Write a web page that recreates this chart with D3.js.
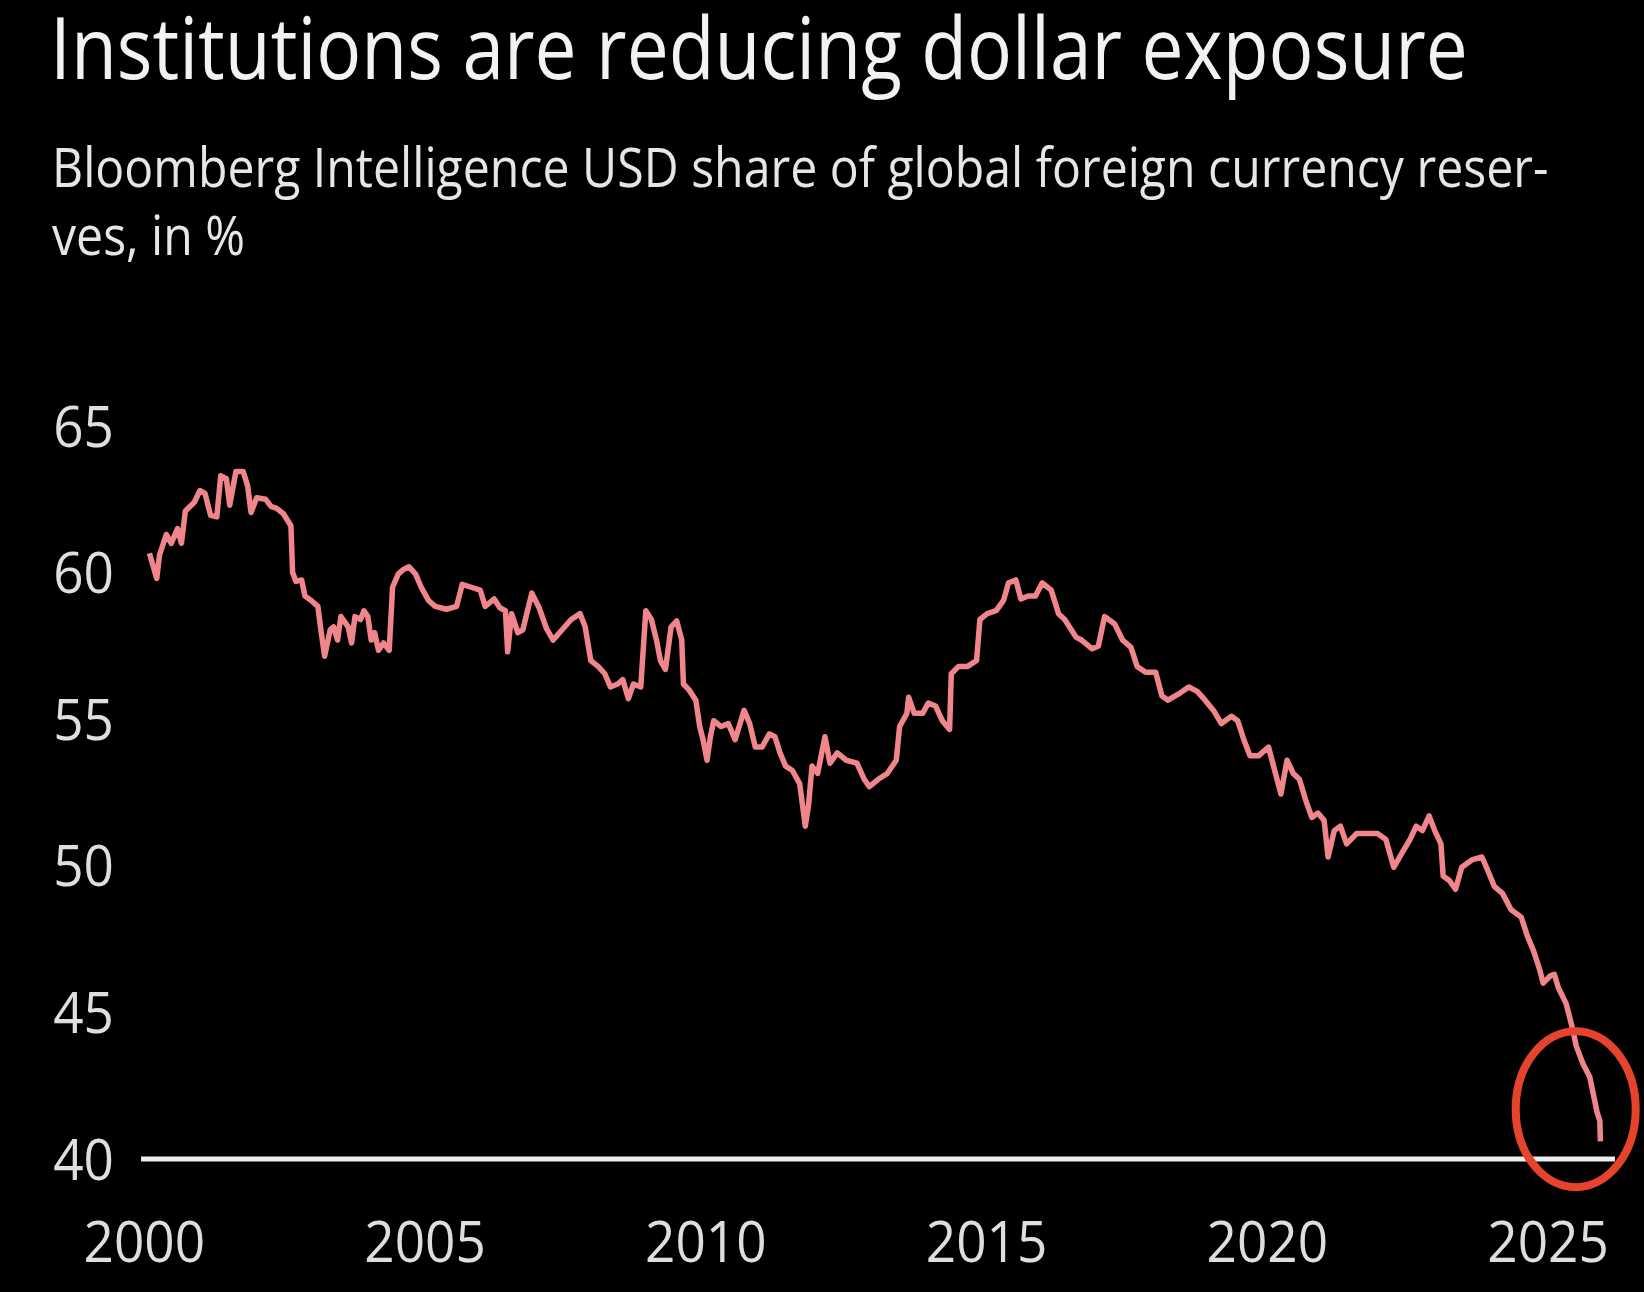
<!DOCTYPE html>
<html>
<head>
<meta charset="utf-8">
<script src="https://cdn.jsdelivr.net/npm/d3@7"></script>
<style>
  body { margin: 0; background: #000; }
  svg { display: block; }
  text { font-family: 'Open Sans', sans-serif; }
</style>
</head>
<body>
<div id="chart"></div>
<script>
// USD share of global FX reserves (decimal years)
const years = [
    2000.10, 2000.23, 2000.28, 2000.40, 2000.49, 2000.60, 2000.67, 2000.74, 2000.90, 2001.00,
    2001.09, 2001.19, 2001.30, 2001.37, 2001.47, 2001.53, 2001.64, 2001.77, 2001.85, 2001.91,
    2002.01, 2002.17, 2002.27, 2002.36, 2002.49, 2002.62, 2002.65, 2002.71, 2002.81, 2002.87,
    2002.98, 2003.10, 2003.16, 2003.22, 2003.32, 2003.38, 2003.45, 2003.51, 2003.64, 2003.70,
    2003.76, 2003.86, 2003.92, 2003.99, 2004.05, 2004.11, 2004.18, 2004.27, 2004.37, 2004.43,
    2004.53, 2004.62, 2004.72, 2004.84, 2004.94, 2005.07, 2005.19, 2005.39, 2005.57, 2005.67,
    2005.83, 2005.99, 2006.08, 2006.24, 2006.34, 2006.44, 2006.48, 2006.55, 2006.66, 2006.75,
    2006.91, 2007.04, 2007.17, 2007.29, 2007.45, 2007.61, 2007.77, 2007.86, 2007.96, 2008.09,
    2008.21, 2008.31, 2008.44, 2008.53, 2008.63, 2008.72, 2008.85, 2008.94, 2009.04, 2009.13,
    2009.20, 2009.29, 2009.39, 2009.49, 2009.58, 2009.61, 2009.71, 2009.83, 2009.90, 2009.96,
    2010.03, 2010.09, 2010.15, 2010.28, 2010.41, 2010.53, 2010.69, 2010.79, 2010.89, 2011.01,
    2011.14, 2011.24, 2011.33, 2011.43, 2011.55, 2011.68, 2011.78, 2011.84, 2011.90, 2012.00,
    2012.13, 2012.22, 2012.35, 2012.51, 2012.70, 2012.83, 2012.92, 2013.08, 2013.24, 2013.40,
    2013.46, 2013.59, 2013.62, 2013.72, 2013.87, 2013.97, 2014.10, 2014.22, 2014.35, 2014.38,
    2014.51, 2014.67, 2014.83, 2014.89, 2015.02, 2015.18, 2015.31, 2015.40, 2015.53, 2015.62,
    2015.75, 2015.88, 2016.00, 2016.16, 2016.29, 2016.40, 2016.60, 2016.70, 2016.89, 2017.00,
    2017.11, 2017.29, 2017.43, 2017.58, 2017.69, 2017.84, 2018.02, 2018.13, 2018.24, 2018.46,
    2018.61, 2018.76, 2018.90, 2019.05, 2019.19, 2019.37, 2019.48, 2019.59, 2019.70, 2019.85,
    2020.03, 2020.14, 2020.25, 2020.36, 2020.47, 2020.58, 2020.69, 2020.80, 2020.91, 2021.02,
    2021.09, 2021.20, 2021.31, 2021.42, 2021.60, 2021.79, 2021.97, 2022.12, 2022.26, 2022.41,
    2022.55, 2022.66, 2022.77, 2022.89, 2022.99, 2023.10, 2023.14, 2023.25, 2023.36, 2023.47,
    2023.65, 2023.83, 2023.91, 2024.05, 2024.20, 2024.35, 2024.53, 2024.64, 2024.75, 2024.86,
    2024.92, 2025.05, 2025.12, 2025.19, 2025.33, 2025.39, 2025.45, 2025.51, 2025.63, 2025.75,
    2025.81, 2025.88, 2025.93, 2025.94
];

const usdShare = [
    60.66, 59.80, 60.60, 61.30, 61.00, 61.50, 61.00, 62.10, 62.40, 62.80,
    62.70, 61.95, 61.90, 63.30, 63.20, 62.30, 63.45, 63.45, 62.95, 62.05,
    62.55, 62.50, 62.25, 62.20, 62.00, 61.60, 60.00, 59.70, 59.75, 59.20,
    59.05, 58.85, 57.95, 57.15, 58.05, 58.15, 57.70, 58.50, 58.15, 57.60,
    58.50, 58.40, 58.70, 58.50, 57.70, 57.95, 57.35, 57.60, 57.35, 59.50,
    59.95, 60.10, 60.20, 59.95, 59.50, 59.05, 58.85, 58.75, 58.85, 59.60,
    59.50, 59.40, 58.85, 59.10, 58.80, 58.70, 57.30, 58.60, 57.95, 58.05,
    59.30, 58.80, 58.10, 57.70, 58.05, 58.40, 58.60, 58.15, 57.00, 56.80,
    56.55, 56.10, 56.20, 56.35, 55.70, 56.20, 56.10, 58.70, 58.40, 57.70,
    57.00, 56.70, 58.15, 58.35, 57.70, 56.20, 56.00, 55.65, 54.75, 54.30,
    53.60, 54.40, 54.95, 54.75, 54.85, 54.30, 55.30, 54.85, 54.05, 54.05,
    54.50, 54.40, 53.85, 53.40, 53.25, 52.80, 51.35, 52.10, 53.40, 53.15,
    54.40, 53.50, 53.85, 53.60, 53.50, 52.95, 52.70, 52.95, 53.15, 53.60,
    54.75, 55.20, 55.75, 55.20, 55.20, 55.55, 55.45, 54.95, 54.65, 56.55,
    56.80, 56.80, 57.00, 58.40, 58.60, 58.70, 59.05, 59.65, 59.75, 59.10,
    59.20, 59.20, 59.65, 59.40, 58.60, 58.40, 57.80, 57.70, 57.40, 57.50,
    58.50, 58.25, 57.70, 57.45, 56.80, 56.60, 56.60, 55.80, 55.65, 55.90,
    56.10, 55.95, 55.65, 55.30, 54.85, 55.10, 54.95, 54.30, 53.75, 53.75,
    54.05, 53.25, 52.45, 53.60, 53.15, 52.95, 52.25, 51.65, 51.80, 51.55,
    50.30, 51.20, 51.35, 50.75, 51.10, 51.10, 51.10, 50.90, 49.95, 50.45,
    50.90, 51.35, 51.20, 51.70, 51.20, 50.75, 49.65, 49.50, 49.20, 49.95,
    50.20, 50.30, 49.95, 49.30, 49.05, 48.50, 48.25, 47.60, 47.10, 46.45,
    46.00, 46.25, 46.30, 45.85, 45.30, 44.85, 44.40, 43.85, 43.25, 42.80,
    42.25, 41.60, 41.30, 40.60
];

const yTicks = [40, 45, 50, 55, 60, 65];
const xTicks = [2000, 2005, 2010, 2015, 2020, 2025];

const titleText = 'Institutions are reducing dollar exposure';
const subtitleLines = [
    'Bloomberg Intelligence USD share of global foreign currency reser-',
    'ves, in %',
];

// the red ring drawn around the latest readings
const highlight = { year: 2025.5, value: 41.7 };

const data = years.map((yr, i) => ({ year: yr, value: usdShare[i] }));

const width = 1644;
const height = 1292;

const svg = d3.select('#chart')
    .append('svg')
    .attr('width', width)
    .attr('height', height)
    .style('background', '#000');

const x = d3.scaleLinear()
    .domain([1999.95, 2026.2])
    .range([141, 1615]);

const y = d3.scaleLinear()
    .domain([40, 65])
    .range([1159, 426]);

// the original font is narrower than Open Sans, so squeeze the text sideways
function squeeze(sel, px, py, targetWidth) {
    const w = sel.node().getComputedTextLength();
    const k = targetWidth / w;
    sel.attr('x', 0).attr('y', 0)
        .attr('transform', `translate(${px},${py}) scale(${k},1)`);
    return k;
}

const title = svg.append('text')
    .attr('fill', '#f2f2f2')
    .style('font-size', '86px')
    .text(titleText);
squeeze(title, 50, 79, 1418);

const sub1 = svg.append('text')
    .attr('fill', '#e6e6e6')
    .style('font-size', '54px')
    .text(subtitleLines[0]);
const k = squeeze(sub1, 52, 187, 1497);

svg.append('text')
    .attr('fill', '#e6e6e6')
    .style('font-size', '54px')
    .attr('transform', `translate(52,255) scale(${k},1)`)
    .text(subtitleLines[1]);

// axes
const tickSqueeze = 0.95;

const yAxis = svg.append('g')
    .attr('transform', 'translate(114,0)')
    .call(d3.axisLeft(y).tickValues(yTicks).tickSize(0).tickPadding(0));
yAxis.select('.domain').remove();
yAxis.selectAll('text')
    .attr('x', 0)
    .attr('dy', '0.36em')
    .attr('transform', `scale(${tickSqueeze},1)`)
    .attr('fill', '#dedede')
    .style('font-family', "'Open Sans', sans-serif")
    .style('font-size', '56px');

const xAxis = svg.append('g')
    .attr('transform', 'translate(0,1262)')
    .call(d3.axisBottom(x).tickValues(xTicks).tickFormat(d3.format('d')).tickSize(0).tickPadding(0));
xAxis.select('.domain').remove();
xAxis.selectAll('text')
    .attr('y', 0)
    .attr('dy', 0)
    .attr('transform', `scale(${tickSqueeze},1)`)
    .attr('fill', '#dedede')
    .style('font-family', "'Open Sans', sans-serif")
    .style('font-size', '56px');

// 40% baseline
svg.append('line')
    .attr('x1', x.range()[0])
    .attr('x2', x.range()[1])
    .attr('y1', y(40))
    .attr('y2', y(40))
    .attr('stroke', '#ececec')
    .attr('stroke-width', 5);

const line = d3.line()
    .x((d) => x(d.year))
    .y((d) => y(d.value));

svg.append('path')
    .datum(data)
    .attr('d', line)
    .attr('fill', 'none')
    .attr('stroke', '#f0868c')
    .attr('stroke-width', 5.5)
    .attr('stroke-linejoin', 'round');

svg.append('ellipse')
    .attr('cx', x(highlight.year))
    .attr('cy', y(highlight.value))
    .attr('rx', 60)
    .attr('ry', 78)
    .attr('fill', 'none')
    .attr('stroke', '#e5432c')
    .attr('stroke-width', 8);
</script>
</body>
</html>
